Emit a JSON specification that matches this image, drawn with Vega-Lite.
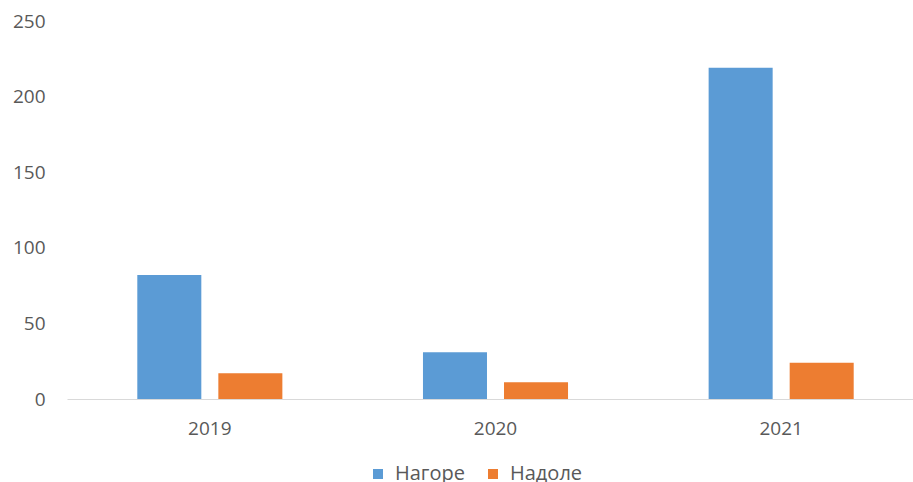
{
  "$schema": "https://vega.github.io/schema/vega-lite/v6.json",
  "width": 846,
  "height": 378,
  "autosize": {"type": "none"},
  "padding": {"left": 67, "top": 21, "right": 0, "bottom": 83},
  "background": "#ffffff",
  "config": {
    "view": {"stroke": null},
    "font": "Open Sans",
    "axis": {"labelFont": "Open Sans", "labelColor": "#595959", "labelFontSize": 19, "grid": false, "ticks": false},
    "legend": {"labelFont": "Open Sans", "labelColor": "#595959", "labelFontSize": 20}
  },
  "data": {
    "values": [
      {"year": "2019", "series": "Нагоре", "value": 82},
      {"year": "2019", "series": "Надоле", "value": 17},
      {"year": "2020", "series": "Нагоре", "value": 31},
      {"year": "2020", "series": "Надоле", "value": 11},
      {"year": "2021", "series": "Нагоре", "value": 219},
      {"year": "2021", "series": "Надоле", "value": 24}
    ]
  },
  "mark": {"type": "bar"},
  "encoding": {
    "x": {
      "field": "year", "type": "nominal", "title": null,
      "scale": {"range": [0, 857], "paddingInner": 0, "paddingOuter": 0},
      "axis": {"labelAngle": 0, "labelPadding": 20, "domainColor": "#D9D9D9", "domainWidth": 1}
    },
    "xOffset": {
      "field": "series", "type": "nominal",
      "scale": {"paddingInner": 0.21, "paddingOuter": 0.8675}
    },
    "y": {
      "field": "value", "type": "quantitative", "title": null,
      "scale": {"domain": [0, 250]},
      "axis": {"values": [0, 50, 100, 150, 200, 250], "domain": false, "labelPadding": 22}
    },
    "color": {
      "field": "series", "type": "nominal", "title": null,
      "scale": {"domain": ["Нагоре", "Надоле"], "range": ["#5B9BD5", "#ED7D31"]},
      "legend": {"orient": "none", "legendX": 301, "legendY": 443, "direction": "horizontal", "symbolType": "square", "symbolSize": 100, "symbolStrokeWidth": 0, "labelOffset": 7, "columnPadding": 18}
    }
  }
}
